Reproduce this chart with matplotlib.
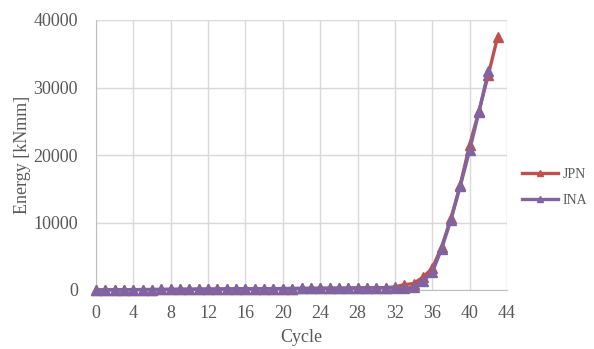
import matplotlib
matplotlib.use("Agg")
import matplotlib.pyplot as plt

# Cumulative dissipated energy per loading cycle
cycles = list(range(0, 44))
jpn_energy = [0, 20, 30, 40, 50, 60, 70, 80, 90, 100,
              110, 120, 130, 140, 150, 160, 170, 180, 190, 200,
              210, 220, 230, 240, 250, 260, 270, 280, 300, 320,
              340, 360, 450, 800, 950, 1900, 3200, 6400, 10600, 15600,
              21500, 26500, 31900, 37500]
ina_energy = [0, 20, 30, 40, 50, 60, 70, 80, 90, 100,
              110, 120, 130, 140, 150, 160, 170, 180, 190, 200,
              210, 220, 230, 240, 250, 260, 270, 280, 290, 300,
              310, 320, 330, 250, 400, 1300, 2600, 6100, 10400, 15400,
              20700, 26400, 32400]
ina_cycles = cycles[:len(ina_energy)]

x_ticks = list(range(0, 45, 4))
y_ticks = [0, 10000, 20000, 30000, 40000]

red = "#C0504D"
purple = "#8064A2"
text_gray = "#595959"
grid_gray = "#D9D9D9"

plt.rcParams["font.family"] = ["Liberation Serif", "DejaVu Serif"]

fig = plt.figure(figsize=(5.94, 3.49), dpi=100)
ax = fig.add_axes([96 / 594, 1 - 290 / 349, (507 - 96) / 594, (290 - 20) / 349])

ax.plot(cycles, jpn_energy, color=red, lw=2.4, marker="^", ms=7.5,
        label="JPN", zorder=3, clip_on=False)
ax.plot(ina_cycles, ina_energy, color=purple, lw=2.4, marker="^", ms=7.5,
        label="INA", zorder=4, clip_on=False)

ax.set_xlim(0, 44)
ax.set_ylim(0, 40000)
ax.set_xticks(x_ticks)
ax.set_yticks(y_ticks)
ax.grid(True, color=grid_gray, lw=1)
ax.set_axisbelow(True)
for side in ("top", "right"):
    ax.spines[side].set_visible(False)
ax.spines["left"].set_color("#BFBFBF")
ax.spines["bottom"].set_color("#BFBFBF")
ax.tick_params(axis="both", length=0, labelsize=13, labelcolor=text_gray)
ax.tick_params(axis="x", pad=11)
ax.tick_params(axis="y", pad=13)

ax.set_xlabel("Cycle", fontsize=13, color=text_gray, labelpad=5)
ax.set_ylabel("Energy [kNmm]", fontsize=13, color=text_gray, labelpad=2)

leg = fig.legend(loc="center left", bbox_to_anchor=(522 / 594, 1 - 187.5 / 349),
                 frameon=False, fontsize=10, handlelength=2.6, labelspacing=0.95,
                 handletextpad=0.3, markerscale=0.6, borderpad=0,
                 borderaxespad=0)
for t in leg.get_texts():
    t.set_color(text_gray)

fig.savefig("out.png", dpi=100)
